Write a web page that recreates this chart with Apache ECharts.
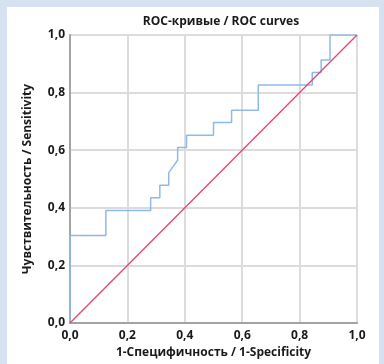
<!DOCTYPE html>
<html>
<head>
<meta charset="utf-8">
<script src="https://cdn.jsdelivr.net/npm/echarts@6/dist/echarts.min.js"></script>
<style>
  html, body { margin: 0; padding: 0; background: #d6e2f1; }
  #panel { position: absolute; left: 7px; top: 7px; width: 372px; height: 357px; background: #ffffff; }
  #chart { position: absolute; left: 0; top: 0; width: 384px; height: 364px; }
</style>
</head>
<body>
<div id="panel"></div>
<div id="chart"></div>
<script>
// ROC curve points (1 - specificity, sensitivity)
const fpr = [0, 0, 0.125, 0.125, 0.281, 0.281, 0.313, 0.313, 0.344, 0.344, 0.375, 0.375, 0.406, 0.406,
  0.5, 0.5, 0.563, 0.563, 0.656, 0.656, 0.844, 0.844, 0.875, 0.875, 0.906, 0.906, 1]
const tpr = [0, 0.304, 0.304, 0.391, 0.391, 0.435, 0.435, 0.478, 0.478, 0.522, 0.565, 0.609, 0.609, 0.652,
  0.652, 0.696, 0.696, 0.739, 0.739, 0.826, 0.826, 0.870, 0.870, 0.913, 0.913, 1, 1]
// reference diagonal
const refX = [0, 1]
const refY = [0, 1]

const titleText = 'ROC-кривые / ROC curves'
const xName = '1-Специфичность / 1-Specificity'
const yName = 'Чувствительность / Sensitivity'

const FONT = '"Open Sans", sans-serif'
const fmt = v => v.toFixed(1).replace('.', ',')

const chart = echarts.init(document.getElementById('chart'))

const axisCommon = {
  type: 'value',
  min: 0,
  max: 1,
  interval: 0.2,
  nameLocation: 'middle',
  nameTextStyle: { fontFamily: FONT, fontWeight: 'bold', fontSize: 12, color: '#1a1a1a' },
  axisLine: { show: true, lineStyle: { color: '#a3a3a3', width: 2 } },
  axisTick: { show: false },
  axisLabel: {
    formatter: fmt,
    fontFamily: FONT,
    fontWeight: 'bold',
    fontSize: 12,
    color: '#1a1a1a',
    margin: 5,
  },
  splitLine: { show: true, lineStyle: { color: '#dcdcdc', width: 2 } },
}

const option = {
  animation: false,
  backgroundColor: 'transparent',
  title: {
    text: titleText,
    left: 216,
    top: 11,
    textAlign: 'center',
    textStyle: { fontFamily: FONT, fontWeight: 'bold', fontSize: 12, color: '#1a1a1a' },
  },
  grid: { left: 70, right: 27, top: 35, bottom: 41, containLabel: false },
  xAxis: {
    ...axisCommon,
    name: xName,
    nameGap: 21,
    axisLabel: { ...axisCommon.axisLabel, margin: 7 },
  },
  yAxis: { ...axisCommon, name: yName, nameGap: 36 },
  series: [
    {
      type: 'line',
      data: fpr.map((x, i) => [x, tpr[i]]),
      showSymbol: false,
      lineStyle: { color: '#8fb9ec', width: 1.5 },
      z: 3,
    },
    {
      type: 'line',
      data: refX.map((x, i) => [x, refY[i]]),
      showSymbol: false,
      lineStyle: { color: '#e2466b', width: 1.3 },
      z: 4,
    },
  ],
}

chart.setOption(option)
</script>
</body>
</html>
